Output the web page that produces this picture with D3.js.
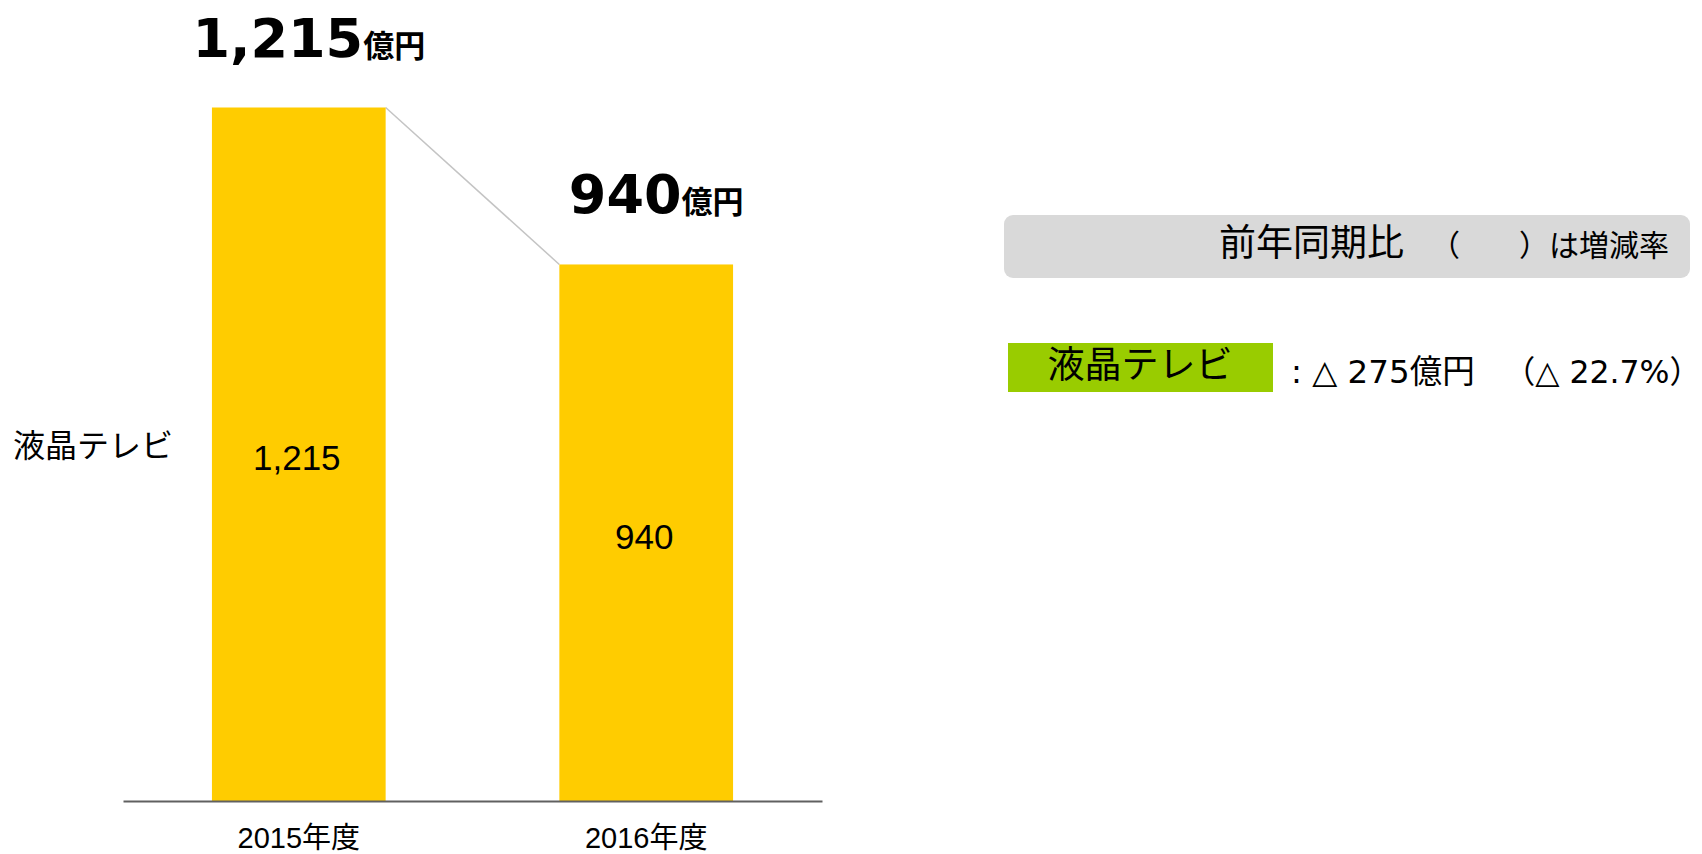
<!DOCTYPE html>
<html>
<head>
<meta charset="utf-8">
<script src="https://cdn.jsdelivr.net/npm/d3@7.9.0/dist/d3.min.js"></script>
<style>
  body { margin: 0; background: #fff; }
  svg { display: block; }
  .jp { font-family: "Noto Sans CJK JP", "Noto Sans", sans-serif; }
  .mix { font-family: "DejaVu Sans", "Noto Sans CJK JP", sans-serif; }
  .num { font-family: "Liberation Sans", Arial, "Noto Sans CJK JP", sans-serif; }
</style>
</head>
<body>
<svg width="1702" height="854"></svg>
<script>
// data
const years = ['2015年度', '2016年度'];
const sales = [1215, 940];
const seriesName = '液晶テレビ';
const diffText = ': △ 275億円';
const rateText = '（△ 22.7%）';

const svg = d3.select('svg');

// scales
let x = d3.scaleBand()
  .domain(years)
  .range([123, 822])
  .paddingInner(0.5)
  .paddingOuter(0.256);

let y = d3.scaleLinear()
  .domain([0, 1215])
  .range([801, 107.5]);

// connector line between bar tops
svg.append('line')
  .attr('x1', x(years[0]) + x.bandwidth())
  .attr('y1', y(sales[0]))
  .attr('x2', x(years[1]))
  .attr('y2', y(sales[1]))
  .attr('stroke', '#c4c4c4')
  .attr('stroke-width', 1.5);

// bars
svg.selectAll('rect.bar')
  .data(sales)
  .join('rect')
  .attr('class', 'bar')
  .attr('x', (d, i) => x(years[i]))
  .attr('y', d => y(d))
  .attr('width', x.bandwidth())
  .attr('height', d => y(0) - y(d))
  .attr('fill', '#ffcc00');

// baseline axis
let axis = svg.append('g')
  .attr('transform', `translate(0,${y(0)})`)
  .call(d3.axisBottom(x).tickSize(0).tickPadding(26));
axis.select('.domain').attr('stroke', '#606060').attr('stroke-width', 2);
axis.selectAll('text')
  .attr('class', 'num')
  .attr('font-size', 29)
  .attr('fill', '#000')
  .attr('dy', '0.71em');

// value labels inside bars
svg.selectAll('text.inner')
  .data(sales)
  .join('text')
  .attr('class', 'inner num')
  .attr('x', (d, i) => x(years[i]) + x.bandwidth() / 2 - 2)
  .attr('y', d => (y(d) + y(0)) / 2 + 16)
  .attr('text-anchor', 'middle')
  .attr('font-size', 35)
  .text(d => d3.format(',')(d));

// big labels above bars
let big = svg.selectAll('text.big')
  .data(sales)
  .join('text')
  .attr('class', 'big')
  .attr('x', (d, i) => x(years[i]) + x.bandwidth() / 2 + 10)
  .attr('y', d => y(d) - 51)
  .attr('text-anchor', 'middle')
  .attr('font-weight', 'bold');
big.append('tspan')
  .attr('font-family', '"DejaVu Sans", Verdana, sans-serif')
  .attr('font-size', 54)
  .text(d => d3.format(',')(d));
big.append('tspan')
  .attr('font-family', '"Noto Sans CJK JP", sans-serif')
  .attr('font-size', 31)
  .text('億円');

// row label on the left
svg.append('text')
  .attr('class', 'jp')
  .attr('x', 13)
  .attr('y', 457)
  .attr('font-size', 32)
  .text(seriesName);

// note box
svg.append('rect')
  .attr('x', 1004).attr('y', 215)
  .attr('width', 686).attr('height', 63)
  .attr('rx', 9)
  .attr('fill', '#d9d9d9');
let note = svg.append('text')
  .attr('class', 'jp')
  .attr('y', 256);
note.append('tspan').attr('x', 1219).attr('font-size', 37).text('前年同期比');
note.append('tspan').attr('x', 1430).attr('font-size', 30).text('（');
note.append('tspan').attr('x', 1519).attr('font-size', 30).text('）は増減率');

// legend row
svg.append('rect')
  .attr('x', 1008).attr('y', 343)
  .attr('width', 265).attr('height', 49)
  .attr('fill', '#99cc00');
svg.append('text')
  .attr('class', 'jp')
  .attr('x', 1140).attr('y', 378)
  .attr('text-anchor', 'middle')
  .attr('font-size', 37)
  .text(seriesName);
svg.append('text')
  .attr('class', 'mix')
  .attr('x', 1291).attr('y', 383)
  .attr('font-size', 32.5)
  .text(diffText);
svg.append('text')
  .attr('class', 'mix')
  .attr('x', 1701).attr('y', 383)
  .attr('text-anchor', 'end')
  .attr('font-size', 31.5)
  .text(rateText);
</script>
</body>
</html>
